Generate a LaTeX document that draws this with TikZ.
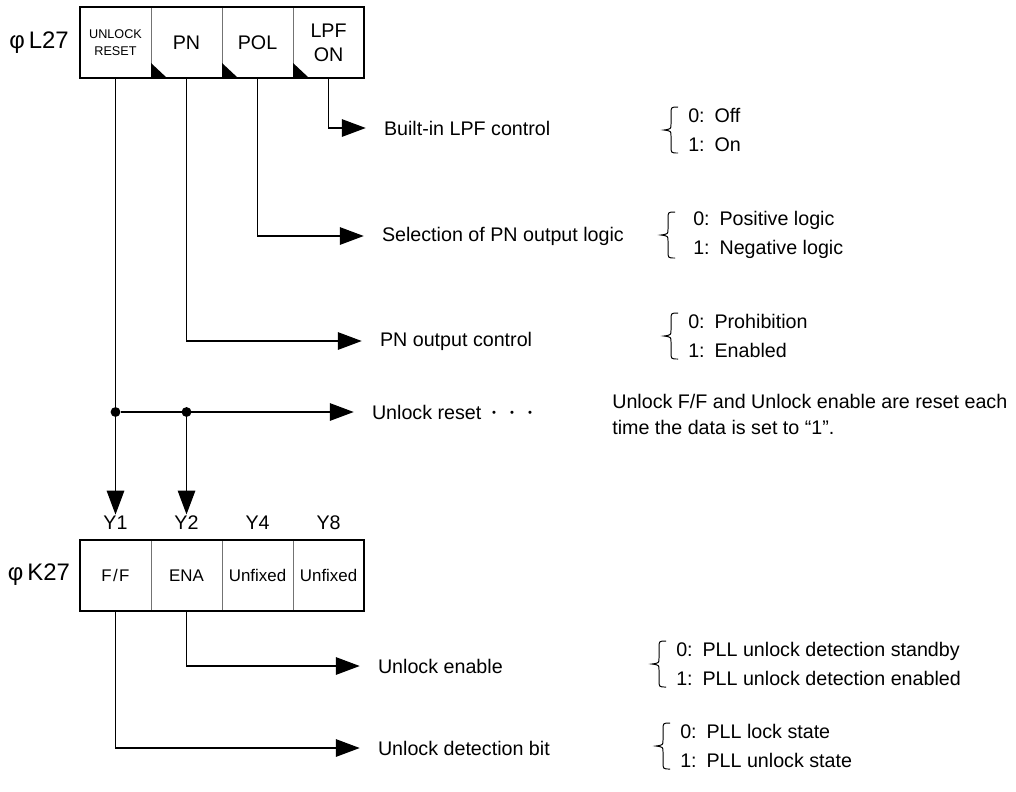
\documentclass[tikz,border=0pt]{standalone}
\usepackage{fontspec}
\setmainfont{Liberation Sans}
\usetikzlibrary{arrows.meta,positioning,calc}
\tikzset{
  regcell/.style={rectangle, draw=black!55, line width=0.5pt, minimum width=1.775cm,
                  minimum height=1.775cm, inner sep=0pt, outer sep=0pt, align=center,
                  font=\fontsize{14}{17}\selectfont},
  regname/.style={inner sep=0pt, font=\fontsize{17}{20}\selectfont},
  ylbl/.style={inner sep=0pt, font=\fontsize{14}{17}\selectfont},
  lbl/.style={anchor=west, inner sep=0pt, outer sep=0pt, font=\fontsize{14}{17}\selectfont},
  opts/.style={anchor=west, inner sep=0pt, align=left, font=\fontsize{14}{21}\selectfont},
  arr/.style={-{Triangle[length=17pt,width=12.5pt]}, line width=0.8pt, shorten >=13pt},
  jdot/.style={circle, fill, inner sep=0pt, minimum size=7pt},
  optbrace/.pic={\draw[line width=0.7pt] (14,-23) .. controls (7,-23) .. (7,-16) -- (7,-6)
                 .. controls (7,-1) .. (0,0) .. controls (7,1) .. (7,6) -- (7,16)
                 .. controls (7,23) .. (14,23);},
}
\begin{document}
\begin{tikzpicture}[x=0.025cm, y=-0.025cm]
  \useasboundingbox (0,0) rectangle (1016,791);
  % register L27
  \node[regcell, font=\fontsize{9}{12}\selectfont] (l27a) at (115.5,42.5) {UNLOCK\\RESET};
  \node[regcell, right=0pt of l27a] (l27b) {PN};
  \node[regcell, right=0pt of l27b] (l27c) {POL};
  \node[regcell, right=0pt of l27c] (l27d) {LPF\\ON};
  \draw[line width=1.2pt] (l27a.north west) rectangle (l27d.south east);
  \foreach \c in {b,c,d}
    \fill (l27\c.south west) -- ++(16,0) -- ++(-16,-15) -- cycle;
  \node[regname] (l27) at (39,43) {φ\,L27};

  % register K27
  \node[regcell, font=\fontsize{12}{14}\selectfont] (k27a) at (115.5,575.5) {F\kern1pt/\kern1pt F};
  \node[regcell, font=\fontsize{12}{14}\selectfont, right=0pt of k27a] (k27b) {ENA};
  \node[regcell, font=\fontsize{12}{14}\selectfont, right=0pt of k27b] (k27c) {Unfixed};
  \node[regcell, font=\fontsize{12}{14}\selectfont, right=0pt of k27c] (k27d) {Unfixed};
  \draw[line width=1.2pt] (k27a.north west) rectangle (k27d.south east);
  \node[regname] (k27) at (39,575) {φ\,K27};
  \foreach \n/\c in {1/a,2/b,4/c,8/d}
    \node[ylbl] (y\n) at (k27\c |- 0,523) {Y\n};

  % L27 bits
  \node[lbl] (lpfc) at (384,128) {Built-in LPF control};
  \node[lbl] (polc) at (382,236) {Selection of PN output logic};
  \node[lbl] (pnc) at (380,341) {PN output control};
  \node[lbl] (rst) at (372,412) {Unlock reset};
  \draw[arr] (l27d) |- (lpfc);
  \draw[arr] (l27c) |- (polc);
  \draw[arr] (l27b) |- (pnc);
  \node[jdot] (j1) at (l27a |- rst) {};
  \node[jdot] (j2) at (l27b |- rst) {};
  \draw[arr] (j1) -- (rst);
  \draw[arr, shorten >=1pt] (l27a) -- (y1);
  \draw[arr, shorten >=1pt] (j2) -- (y2);

  \node[opts] (lpfo) at (688,130) {0:\enspace Off\\1:\enspace On};
  \node[opts] (polo) at (693,235) {0:\enspace Positive logic\\1:\enspace Negative logic};
  \node[opts] (pno) at (688,336) {0:\enspace Prohibition\\1:\enspace Enabled};
  \pic at ($(lpfo.west)+(-24,0)$) {optbrace};
  \pic at ($(polo.west)+(-32,0)$) {optbrace};
  \pic at ($(pno.west)+(-24,0)$) {optbrace};
  \node[inner sep=0pt, font=\fontsize{8}{10}\selectfont] (ell) at (512,414) {•\hspace{10pt}•\hspace{10pt}•};
  \node[opts, font=\fontsize{14}{18.5}\selectfont] (note) at (612,414)
    {Unlock F/F and Unlock enable are reset each\\time the data is set to “1”.};

  % K27 bits
  \node[lbl] (ena) at (378,666) {Unlock enable};
  \node[lbl] (dbit) at (378,748) {Unlock detection bit};
  \draw[arr] (k27b) |- (ena);
  \draw[arr] (k27a) |- (dbit);
  \node[opts] (enao) at (676,664) {0:\enspace PLL unlock detection standby\\1:\enspace PLL unlock detection enabled};
  \node[opts] (dbito) at (680,746) {0:\enspace PLL lock state\\1:\enspace PLL unlock state};
  \pic at ($(enao.west)+(-24,0)$) {optbrace};
  \pic at ($(dbito.west)+(-24,0)$) {optbrace};
\end{tikzpicture}
\end{document}
